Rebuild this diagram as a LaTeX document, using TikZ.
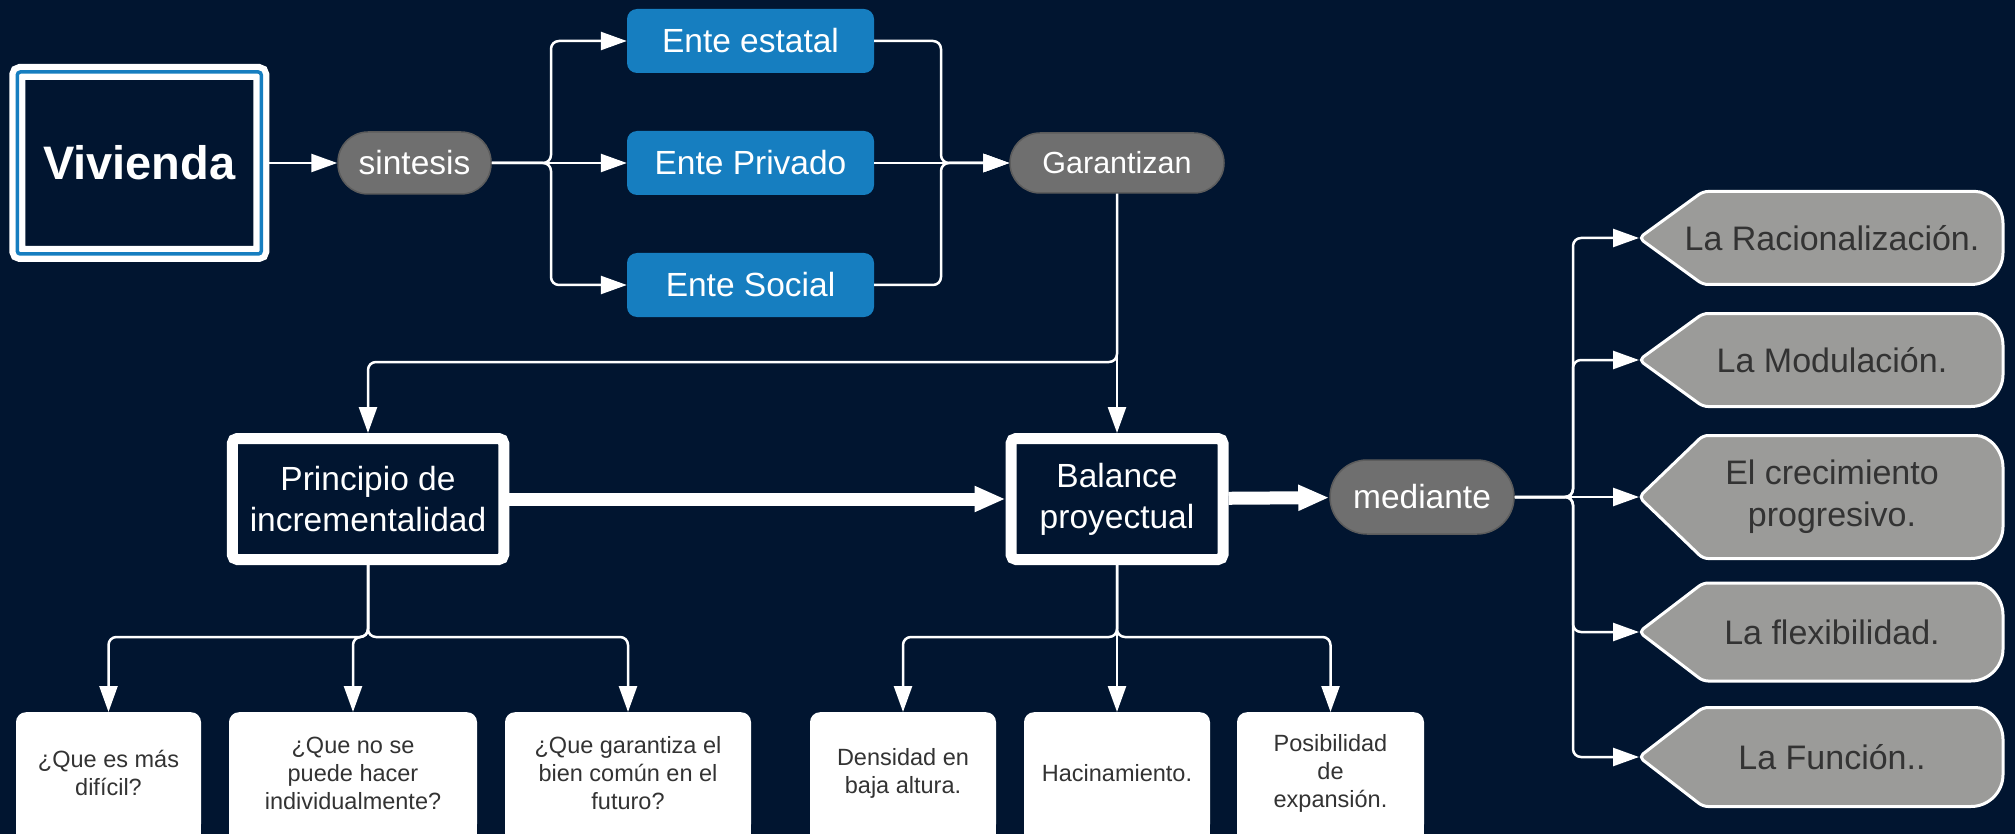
\documentclass[tikz,border=0pt]{standalone}
\usepackage{fontspec}
\setmainfont{Liberation Sans}
\usetikzlibrary{positioning,arrows.meta,calc}

\definecolor{navy}{RGB}{1,21,48}
\definecolor{entblue}{RGB}{22,126,192}
\definecolor{pillgray}{RGB}{111,111,111}
\definecolor{pilledge}{RGB}{92,92,92}
\definecolor{taggray}{RGB}{155,155,153}
\definecolor{textgray}{RGB}{51,51,51}

\pgfdeclarelayer{back}
\pgfsetlayers{back,main}

\tikzset{
  conn/.style={white, line width=2.5pt, rounded corners=8pt, -{Triangle[length=26pt,width=18pt]}},
  bigconn/.style={white, line width=13pt, -{Triangle[length=31pt,width=24pt]}},
  vivbox/.style={draw=white, line width=16pt, fill=navy, rounded corners=3pt,
    postaction={draw=entblue, line width=3.5pt},
    minimum width=244pt, minimum height=182pt, text=white,
    font=\fontsize{47}{56}\selectfont\bfseries},
  pill/.style={fill=pillgray, draw=pilledge, line width=1.5pt, rounded corners=30pt,
    minimum height=62pt, inner sep=0pt, text=white, font=\fontsize{33.5}{40}\selectfont},
  ente/.style={fill=entblue, rounded corners=10pt, minimum width=247pt, minimum height=64pt,
    text=white, font=\fontsize{33.5}{40}\selectfont},
  frame/.style={draw=white, line width=11pt, fill=navy, rounded corners=5pt,
    minimum height=121pt, inner sep=0pt, align=center, text=white,
    font=\fontsize{33.5}{41}\selectfont},
  askbox/.style={fill=white, rounded corners=10pt, minimum height=122pt, anchor=north,
    inner sep=0pt, align=center, text=textgray, font=\fontsize{23.5}{28}\selectfont},
  tagtext/.style={align=center, text=textgray, font=\fontsize{34}{42}\selectfont},
  tagshape/.style={fill=taggray, draw=white, line width=3pt},
}

\begin{document}
\begin{tikzpicture}[x=1pt,y=-1pt]
  \useasboundingbox (0,0) rectangle (2015,834);

  % top row
  \node[vivbox] (viv) at (139.3,163) {Vivienda};
  \node[pill, minimum width=153pt] (sin) at (414.5,163) {sintesis};
  \node[ente] (estatal) at (750.5,41) {Ente estatal};
  \node[ente] (privado) at (750.5,163) {Ente Privado};
  \node[ente] (social) at (750.5,285) {Ente Social};
  \node[pill, minimum width=214pt, minimum height=60pt,
    font=\fontsize{30.5}{36}\selectfont] (gar) at (1117,163) {Garantizan};

  % middle row
  \node[frame, minimum width=271.5pt] (prin) at (368,499) {Principio de\\incrementalidad};
  \node[frame, minimum width=212pt] (bal) at (1117,499) {Balance\\proyectual};
  \node[pill, minimum width=184pt, minimum height=74pt, rounded corners=37pt] (med) at (1422,497) {mediante};

  % questions and criteria
  \node[askbox, minimum width=185pt] (q1) at (108.5,712) {¿Que es más\\difícil?};
  \node[askbox, minimum width=248pt] (q2) at (353,712) {¿Que no se\\puede hacer\\individualmente?};
  \node[askbox, minimum width=246pt] (q3) at (628,712) {¿Que garantiza el\\bien común en el\\futuro?};
  \node[askbox, minimum width=186pt] (d1) at (903,712) {Densidad en\\baja altura.};
  \node[askbox, minimum width=186pt] (d2) at (1117,712) {Hacinamiento.};
  \node[askbox, minimum width=187pt] (d3) at (1330.5,712) {Posibilidad\\de\\expansión.};

  % tags on the right
  \node[tagtext] (rac) at (1832,238) {La Racionalización.};
  \node[tagtext] (mod) at (1832,360) {La Modulación.};
  \node[tagtext] (cre) at (1832,497) {El crecimiento\\progresivo.};
  \node[tagtext] (fle) at (1832,632) {La flexibilidad.};
  \node[tagtext] (fun) at (1832,757) {La Función..};
  \foreach \t in {rac,mod,cre,fle,fun}
    \coordinate (\t-tip) at ($(\t)+(-193,0)$);

  \begin{pgfonlayer}{back}
    \fill[navy] (0,0) rectangle (2015,834);
    % square off the bottom of the boxes
    \foreach \q in {q1,q2,q3,d1,d2,d3}
      \fill[white] (\q.west) rectangle (\q.south east);
    % arrow-shaped tags, round on the right
    \foreach \t/\h in {rac/46.5,mod/46.5,cre/61.5,fle/49,fun/49.5}
      \filldraw[tagshape] ($(\t)+(139,\h)$) [rounded corners=5pt]
        -- ($(\t)+(-129,\h)$) -- (\t-tip) -- ($(\t)+(-129,-\h)$)
        -- ($(\t)+(139,-\h)$) [sharp corners] arc[start angle=-90, end angle=0, radius=32]
        -- ($(\t)+(171,\h-32)$) arc[start angle=0, end angle=90, radius=32] -- cycle;
  \end{pgfonlayer}

  % connectors
  \coordinate (fork1) at (551,163);
  \coordinate (fork2) at (941,163);
  \coordinate (split) at (1117,362);
  \coordinate (fork3) at (368,637);
  \coordinate (fork4) at (1117,637);
  \coordinate (fork5) at (1573,497);

  \draw[conn] (viv) -- (sin);
  \draw[conn] (sin) -- (privado);
  \foreach \e in {estatal,social}
    \draw[conn] (sin.east) -- (fork1) |- (\e.west);
  \draw[conn] (privado) -- (gar);
  \foreach \e in {estatal,social}
    \draw[conn] (\e.east) -| (fork2) -- (gar.west);
  \draw[conn] (gar) -- (bal);
  \draw[conn] (gar.south) -- (split) -| (prin.north);
  \draw[bigconn] (prin) -- (bal);
  \draw[bigconn] (bal) -- (med);
  \foreach \q in {q1,q2,q3}
    \draw[conn] (prin.south) -- (fork3) -| (\q.north);
  \draw[conn] (bal) -- (d2);
  \foreach \d in {d1,d3}
    \draw[conn] (bal.south) -- (fork4) -| (\d.north);
  \draw[conn] (med) -- (cre-tip);
  \foreach \t in {rac,mod,fle,fun}
    \draw[conn] (med.east) -- (fork5) |- (\t-tip);
\end{tikzpicture}
\end{document}
